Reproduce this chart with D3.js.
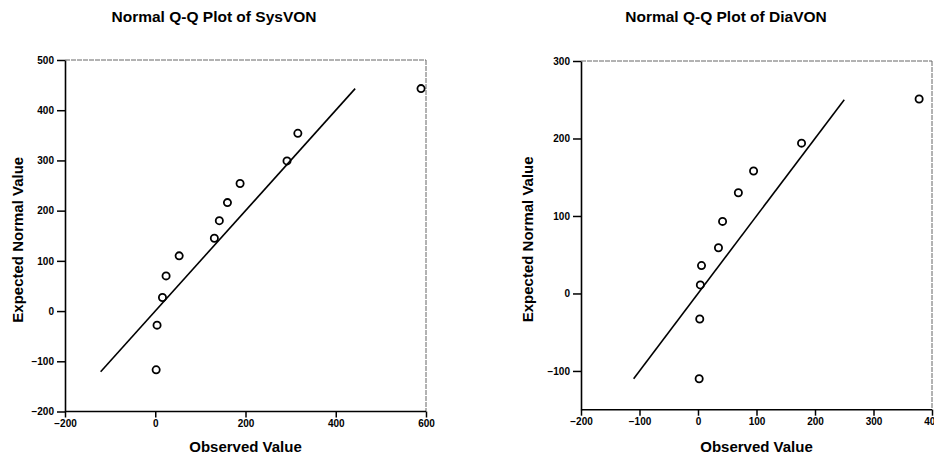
<!DOCTYPE html>
<html>
<head>
<meta charset="utf-8">
<script src="https://cdn.jsdelivr.net/npm/d3@7"></script>
<style>
  html, body { margin: 0; padding: 0; background: #fff; }
  svg { display: block; }
  text { font-family: "Liberation Sans", Arial, sans-serif; fill: #000; }
</style>
</head>
<body>
<svg id="chart" width="934" height="462"></svg>
<script>
// ---- Data ----
const sysTitle = "Normal Q-Q Plot of SysVON";
const sysObserved = [2, 4, 16, 24, 53, 131, 142, 160, 188, 292, 316, 589];
const sysExpected = [-117, -28, 27, 70, 110, 145, 180, 216, 254, 299, 354, 443];
const sysLine = [-121, 443];
const sysXTicks = [-200, 0, 200, 400, 600];
const sysYTicks = [-200, -100, 0, 100, 200, 300, 400, 500];

const diaTitle = "Normal Q-Q Plot of DiaVON";
const diaObserved = [2, 3, 4, 6, 35, 42, 69, 95, 177, 378];
const diaExpected = [-110, -33, 11, 36, 59, 93, 130, 158, 194, 251];
const diaLine = [-110, 250];
const diaXTicks = [-200, -100, 0, 100, 200, 300, 400];
const diaYTicks = [-100, 0, 100, 200, 300];

const xLabel = "Observed Value";
const yLabel = "Expected Normal Value";

const svg = d3.select("#chart");

function panel(cfg) {
  const x = d3.scaleLinear().domain(cfg.xDomain).range([cfg.left, cfg.right]);
  const y = d3.scaleLinear().domain(cfg.yDomain).range([cfg.bottom, cfg.top]);
  const g = svg.append("g");

  // frame top & right (faint)
  g.append("line").attr("x1", cfg.left).attr("x2", cfg.right).attr("y1", cfg.top).attr("y2", cfg.top)
    .attr("stroke", "#666").attr("stroke-width", 1).attr("stroke-dasharray", "5,1");
  g.append("line").attr("x1", cfg.right).attr("x2", cfg.right).attr("y1", cfg.top).attr("y2", cfg.bottom)
    .attr("stroke", "#666").attr("stroke-width", 1).attr("stroke-dasharray", "5,1");

  // axes
  const xa = g.append("g").attr("transform", `translate(0,${cfg.bottom})`)
    .call(d3.axisBottom(x).tickValues(cfg.xTicks).tickSize(6).tickSizeOuter(0).tickPadding(2).tickFormat(d3.format("d")));
  const ya = g.append("g").attr("transform", `translate(${cfg.left},0)`)
    .call(d3.axisLeft(y).tickValues(cfg.yTicks).tickSize(8).tickSizeOuter(0).tickPadding(3).tickFormat(d3.format("d")));
  [xa, ya].forEach(a => {
    a.select(".domain").attr("stroke", "#000").attr("stroke-width", 1.6);
    a.selectAll(".tick line").attr("stroke", "#000").attr("stroke-width", 1.5);
    a.selectAll(".tick text").attr("font-size", 10).attr("font-weight", "bold")
      .attr("font-family", "Liberation Sans, Arial, sans-serif").attr("fill", "#000");
  });
  xa.select(".domain").attr("d", `M${cfg.left},0H${cfg.right}`);

  // reference line
  g.append("line")
    .attr("x1", x(cfg.line[0])).attr("y1", y(cfg.line[0]))
    .attr("x2", x(cfg.line[1])).attr("y2", y(cfg.line[1]))
    .attr("stroke", "#000").attr("stroke-width", 1.6);

  // points
  g.selectAll("circle.pt").data(cfg.obs.map((v, i) => [v, cfg.exp[i]]))
    .enter().append("circle")
    .attr("cx", d => x(d[0])).attr("cy", d => y(d[1]))
    .attr("r", 3.6).attr("fill", "none").attr("stroke", "#000").attr("stroke-width", 1.8);

  // titles & labels
  g.append("text").attr("x", cfg.titleX).attr("y", 22).attr("text-anchor", "middle")
    .attr("font-size", 15.5).attr("font-weight", "bold").text(cfg.title);
  g.append("text").attr("x", (cfg.left + cfg.right) / 2).attr("y", 452).attr("text-anchor", "middle")
    .attr("font-size", 15).attr("font-weight", "bold").text(xLabel);
  g.append("text")
    .attr("transform", `translate(${cfg.yLabelX},${(cfg.top + cfg.bottom) / 2 + 4}) rotate(-90)`)
    .attr("text-anchor", "middle").attr("font-size", 15).attr("font-weight", "bold").text(yLabel);
}

panel({
  xDomain: [-200, 600], yDomain: [-200, 500],
  left: 65, right: 426, top: 60, bottom: 411.5,
  xTicks: sysXTicks, yTicks: sysYTicks,
  obs: sysObserved, exp: sysExpected, line: sysLine,
  title: sysTitle, titleX: 214, yLabelX: 23
});

panel({
  xDomain: [-200, 400], yDomain: [-150, 300],
  left: 581, right: 932, top: 61, bottom: 409.7,
  xTicks: diaXTicks, yTicks: diaYTicks,
  obs: diaObserved, exp: diaExpected, line: diaLine,
  title: diaTitle, titleX: 726, yLabelX: 533
});
</script>
</body>
</html>
